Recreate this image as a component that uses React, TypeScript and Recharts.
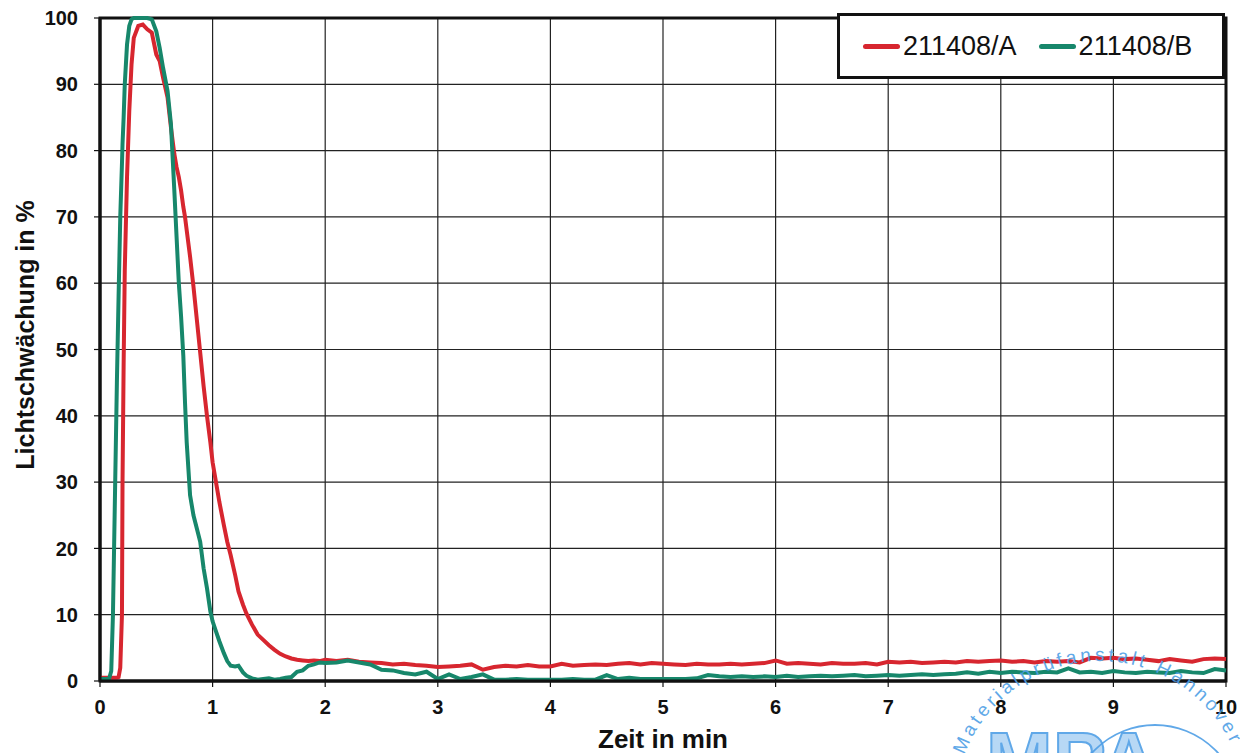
import { LineChart, Line, XAxis, YAxis, CartesianGrid, Legend, ReferenceArea, Label } from 'recharts'

// Zeitachse in min (fein um den Peak, danach 0,1-min-Raster)
const zeitMin = [
  0, 0.04, 0.08, 0.1, 0.115, 0.13, 0.15, 0.165, 0.18, 0.195, 0.2, 0.21, 0.22, 0.24, 0.26, 0.28, 0.3, 0.34, 0.38, 0.42,
  0.46, 0.5, 0.53, 0.56, 0.6, 0.63, 0.66, 0.68, 0.7, 0.72, 0.74, 0.755, 0.77, 0.8, 0.83, 0.86, 0.89, 0.92, 0.95, 0.98,
  1.0, 1.03, 1.06, 1.1, 1.13, 1.16, 1.2, 1.23, 1.27, 1.3, 1.35, 1.4, 1.45, 1.5, 1.55, 1.6, 1.65, 1.7, 1.75, 1.8,
  1.85, 1.9, 1.95, 2.0,
  2.1, 2.2, 2.3, 2.4, 2.5, 2.6, 2.7, 2.8, 2.9, 3.0, 3.1, 3.2, 3.3, 3.4, 3.5, 3.6, 3.7, 3.8, 3.9, 4.0,
  4.1, 4.2, 4.3, 4.4, 4.5, 4.6, 4.7, 4.8, 4.9, 5.0, 5.1, 5.2, 5.3, 5.4, 5.5, 5.6, 5.7, 5.8, 5.9, 6.0,
  6.1, 6.2, 6.3, 6.4, 6.5, 6.6, 6.7, 6.8, 6.9, 7.0, 7.1, 7.2, 7.3, 7.4, 7.5, 7.6, 7.7, 7.8, 7.9, 8.0,
  8.1, 8.2, 8.3, 8.4, 8.5, 8.6, 8.7, 8.8, 8.9, 9.0, 9.1, 9.2, 9.3, 9.4, 9.5, 9.6, 9.7, 9.8, 9.9, 10.0,
]

// 211408/A (rot)
const probeA = [
  0.5, 0.5, 0.5, 0.5, 0.5, 0.5, 0.5, 0.6, 2, 10, 30, 48, 62, 76, 86, 93, 97, 98.8, 99, 98.3,
  97.8, 94.5, 93.5, 91, 88, 83.5, 79.5, 77.5, 76, 74, 71.5, 70, 68, 64, 59.5, 54.5, 49.5, 44.5, 40, 36,
  33, 30, 27, 23.5, 21, 19, 16, 13.5, 11.5, 10.2, 8.5, 7, 6.2, 5.4, 4.7, 4.1, 3.7, 3.4, 3.2, 3.1,
  3.0, 3.1, 3.0, 3.2,
  3.0, 3.2, 2.9, 2.8, 2.7, 2.5, 2.6, 2.4, 2.3, 2.1, 2.2, 2.3, 2.5, 1.7, 2.1, 2.3, 2.2, 2.4, 2.2, 2.2,
  2.6, 2.3, 2.4, 2.5, 2.4, 2.6, 2.7, 2.5, 2.7, 2.6, 2.5, 2.4, 2.6, 2.5, 2.5, 2.6, 2.5, 2.6, 2.7, 3.1,
  2.6, 2.7, 2.6, 2.5, 2.7, 2.6, 2.6, 2.7, 2.5, 2.9, 2.8, 2.9, 2.7, 2.8, 2.9, 2.8, 3.0, 2.9, 3.0, 3.1,
  2.9, 3.0, 2.8, 3.0, 2.9, 3.0, 2.8, 3.5, 3.4, 3.5, 3.3, 3.4, 3.2, 3.0, 3.3, 3.1, 2.9, 3.3, 3.4, 3.3,
]

// 211408/B (grün)
const probeB = [
  0.3, 0.3, 0.3, 1.5, 10, 25, 45, 58, 70, 78, 81, 85, 90, 96, 98.8, 99.8, 100, 100, 100, 100,
  99.8, 98, 95.5, 92.5, 89, 84, 74, 67, 60, 55, 49, 42, 36, 28, 25, 23, 21, 17, 14, 10.5,
  9, 7.5, 6, 4.2, 3, 2.3, 2.2, 2.3, 1.3, 0.8, 0.4, 0.2, 0.3, 0.4, 0.2, 0.3, 0.5, 0.6, 1.4, 1.6,
  2.3, 2.5, 2.8, 2.7,
  2.8, 3.1, 2.8, 2.5, 1.7, 1.6, 1.2, 1.0, 1.4, 0.3, 1.0, 0.3, 0.6, 1.0, 0.2, 0.2, 0.3, 0.2, 0.2, 0.2,
  0.2, 0.3, 0.2, 0.2, 0.9, 0.3, 0.5, 0.3, 0.3, 0.3, 0.3, 0.3, 0.4, 0.9, 0.7, 0.6, 0.7, 0.6, 0.7, 0.6,
  0.8, 0.6, 0.7, 0.8, 0.7, 0.8, 0.9, 0.7, 0.8, 0.9, 0.8, 0.9, 1.0, 0.9, 1.0, 1.1, 1.3, 1.1, 1.4, 1.2,
  1.4, 1.3, 1.2, 1.4, 1.3, 1.9, 1.3, 1.4, 1.2, 1.5, 1.3, 1.2, 1.4, 1.3, 1.2, 1.5, 1.3, 1.2, 1.8, 1.6,
]

const xTicks = [0, 1, 2, 3, 4, 5, 6, 7, 8, 9, 10]
const yTicks = [0, 10, 20, 30, 40, 50, 60, 70, 80, 90, 100]

const ROT = '#d7262f'
const GRUEN = '#17876b'
const STEMPEL = '#4f9fe6'
const FONT = '"Liberation Sans", Arial, sans-serif'

const daten = zeitMin.map((t, i) => ({ t, a: probeA[i], b: probeB[i] }))

function Legende({ payload }: any) {
  return (
    <div
      style={{
        width: 388,
        height: 66,
        boxSizing: 'border-box',
        border: '3px solid #111',
        background: '#fff',
        display: 'flex',
        alignItems: 'center',
        paddingLeft: 23,
        fontFamily: FONT,
      }}
    >
      {(payload || []).map((p: any) => (
        <div key={p.value} style={{ display: 'flex', alignItems: 'center', marginRight: 22 }}>
          <span style={{ display: 'inline-block', width: 37, height: 5, borderRadius: 3, background: p.color, marginRight: 3 }} />
          <span style={{ fontSize: 27, color: '#111', lineHeight: 1 }}>{p.value}</span>
        </div>
      ))}
    </div>
  )
}

// Prüfstempel unten rechts (Scan-Artefakt der Vorlage)
function Stempel() {
  const cx = 1100
  const cy = 806
  const r = 145
  const a0 = (165 * Math.PI) / 180
  const a1 = (-40 * Math.PI) / 180
  const d = `M ${cx + r * Math.cos(a0)} ${cy - r * Math.sin(a0)} A ${r} ${r} 0 1 1 ${cx + r * Math.cos(a1)} ${cy - r * Math.sin(a1)}`
  return (
    <svg width={1240} height={753} style={{ position: 'absolute', left: 0, top: 0, pointerEvents: 'none' }}>
      <defs>
        <path id="stempelBogen" d={d} />
      </defs>
      <text fontFamily={FONT} fontSize={19} letterSpacing={3.5} fill={STEMPEL} opacity={0.9}>
        <textPath href="#stempelBogen" startOffset={14}>
          Materialprüfanstalt Hannover
        </textPath>
      </text>
      <text x={986} y={788} fontFamily={FONT} fontSize={80} fontWeight="bold" fill={STEMPEL} fillOpacity={0.45} stroke={STEMPEL} strokeWidth={2} opacity={0.9}>
        MPA
      </text>
      <circle cx={1155} cy={810} r={85} fill="none" stroke={STEMPEL} strokeWidth={1.8} opacity={0.9} />
    </svg>
  )
}

export default function App() {
  return (
    <div style={{ position: 'absolute', left: 0, top: 0, width: 1240, height: 753, background: '#fff', overflow: 'hidden' }}>
      <LineChart width={1240} height={753} data={daten} margin={{ top: 18, right: 14, bottom: 0, left: 0 }}>
        <CartesianGrid stroke="#222" strokeWidth={1.2} horizontalValues={yTicks} verticalValues={xTicks} />
        <ReferenceArea x1={0} x2={10} y1={0} y2={100} fill="none" stroke="#111" strokeWidth={3} ifOverflow="visible" />
        <XAxis
          dataKey="t"
          type="number"
          domain={[0, 10]}
          ticks={xTicks}
          height={72}
          tickSize={6}
          tickMargin={13}
          axisLine={{ stroke: '#111', strokeWidth: 3 }}
          tickLine={{ stroke: '#111', strokeWidth: 1.2 }}
          tick={{ fontSize: 20, fontWeight: 'bold', fill: '#111', fontFamily: FONT }}
        >
          <Label
            content={() => (
              <text x={663} y={739} textAnchor="middle" dominantBaseline="central" fontFamily={FONT} fontSize={26} fontWeight="bold" fill="#111">
                Zeit in min
              </text>
            )}
          />
        </XAxis>
        <YAxis
          type="number"
          domain={[0, 100]}
          ticks={yTicks}
          width={100}
          tickSize={6}
          tickMargin={16}
          axisLine={{ stroke: '#111', strokeWidth: 3 }}
          tickLine={{ stroke: '#111', strokeWidth: 1.2 }}
          tick={{ fontSize: 20, fontWeight: 'bold', fill: '#111', fontFamily: FONT }}
        >
          <Label
            content={() => (
              <text
                x={25}
                y={335}
                transform="rotate(-90 25 335)"
                textAnchor="middle"
                dominantBaseline="central"
                fontFamily={FONT}
                fontSize={25}
                fontWeight="bold"
                fill="#111"
              >
                Lichtschwächung in %
              </text>
            )}
          />
        </YAxis>
        <Legend
          layout="horizontal"
          verticalAlign="middle"
          align="center"
          content={<Legende />}
          wrapperStyle={{ position: 'absolute', left: 837, top: 13, width: 388, height: 66 }}
        />
        <Line name="211408/A" dataKey="a" type="linear" stroke={ROT} strokeWidth={4} dot={false} isAnimationActive={false} />
        <Line name="211408/B" dataKey="b" type="linear" stroke={GRUEN} strokeWidth={4} dot={false} isAnimationActive={false} />
      </LineChart>
      <Stempel />
    </div>
  )
}
